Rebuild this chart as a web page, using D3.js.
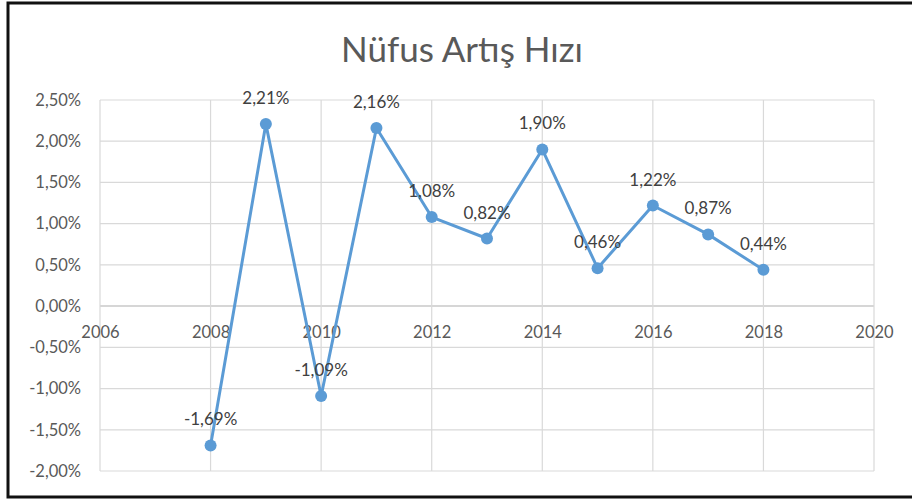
<!DOCTYPE html>
<html>
<head>
<meta charset="utf-8">
<script src="https://cdn.jsdelivr.net/npm/d3@7"></script>
<style>
  body { margin: 0; background: #fff; }
  svg text { font-family: Lato, "Open Sans", sans-serif; }
</style>
</head>
<body>
<div id="chart"></div>
<script>
// data
var years = [2008, 2009, 2010, 2011, 2012, 2013, 2014, 2015, 2016, 2017, 2018];
var rates = [-1.69, 2.21, -1.09, 2.16, 1.08, 0.82, 1.90, 0.46, 1.22, 0.87, 0.44];
var xTicks = [2006, 2008, 2010, 2012, 2014, 2016, 2018, 2020];
var yTicks = [-2, -1.5, -1, -0.5, 0, 0.5, 1, 1.5, 2, 2.5];
var title = "Nüfus Artış Hızı";

var W = 912, H = 501;
var margin = { top: 100, right: 38, bottom: 30, left: 100 };

var svg = d3.select("#chart").append("svg")
    .attr("width", W)
    .attr("height", H);

// frame (left, top, bottom only - right side is cut off)
svg.append("path")
    .attr("d", "M912,3 H8 V497 H912")
    .attr("fill", "none")
    .attr("stroke", "#111")
    .attr("stroke-width", 3);

var x = d3.scaleLinear().domain([2006, 2020]).range([margin.left, 874]);
var y = d3.scaleLinear().domain([-2, 2.5]).range([471, margin.top]);

// turkish style: comma decimal, plain hyphen for minus
var fmt = function(v) {
    return d3.format(".2f")(v).replace(".", ",").replace("\u2212", "-") + "%";
};

// gridlines
svg.append("g").selectAll("line.h")
    .data(yTicks)
    .enter().append("line")
    .attr("x1", x(2006)).attr("x2", x(2020))
    .attr("y1", function(d) { return y(d); })
    .attr("y2", function(d) { return y(d); })
    .attr("stroke", function(d) { return d === 0 ? "#c9c9c9" : "#d9d9d9"; })
    .attr("stroke-width", d => d === 0 ? 1.5 : 1.2);

svg.append("g").selectAll("line.v")
    .data(xTicks)
    .enter().append("line")
    .attr("y1", y(2.5)).attr("y2", y(-2))
    .attr("x1", function(d) { return x(d); })
    .attr("x2", function(d) { return x(d); })
    .attr("stroke", "#d9d9d9")
    .attr("stroke-width", 1.2);

// y axis labels
var yAxis = d3.axisLeft(y).tickValues(yTicks).tickSize(0).tickPadding(19)
    .tickFormat(fmt);
var gy = svg.append("g")
    .attr("transform", "translate(" + margin.left + ",0)")
    .call(yAxis);
gy.select(".domain").remove();
gy.selectAll("text")
    .attr("fill", "#595959")
    .style("font-size", "16.5px");

// x axis labels sit just under the zero line
var xAxis = d3.axisBottom(x).tickValues(xTicks).tickSize(0).tickPadding(20)
    .tickFormat(d3.format("d"));
var gx = svg.append("g")
    .attr("transform", "translate(0," + y(0) + ")")
    .call(xAxis);
gx.select(".domain").remove();
gx.selectAll("text")
    .attr("fill", "#595959")
    .style("font-size", "16.5px");

// title
svg.append("text")
    .attr("x", 462)
    .attr("y", 62)
    .attr("text-anchor", "middle")
    .attr("fill", "#595959")
    .style("font-size", "35px")
    .text(title);

// line
var points = years.map(function(d, i) { return { year: d, value: rates[i] }; });

var line = d3.line()
    .x(function(d) { return x(d.year); })
    .y(function(d) { return y(d.value); });

svg.append("path")
    .datum(points)
    .attr("d", line)
    .attr("fill", "none")
    .attr("stroke", "#5b9bd5")
    .attr("stroke-width", 3)
    .attr("stroke-linejoin", "round");

svg.selectAll("circle.dot")
    .data(points)
    .enter().append("circle")
    .attr("class", "dot")
    .attr("cx", function(d) { return x(d.year); })
    .attr("cy", function(d) { return y(d.value); })
    .attr("r", 6)
    .attr("fill", "#5b9bd5");

// data labels
svg.selectAll("text.lbl")
    .data(points)
    .enter().append("text")
    .attr("class", "lbl")
    .attr("x", function(d) { return x(d.year); })
    .attr("y", function(d) { return y(d.value) - 20; })
    .attr("text-anchor", "middle")
    .attr("fill", "#404040")
    .style("font-size", "17px")
    .text(function(d) { return fmt(d.value); });
</script>
</body>
</html>
